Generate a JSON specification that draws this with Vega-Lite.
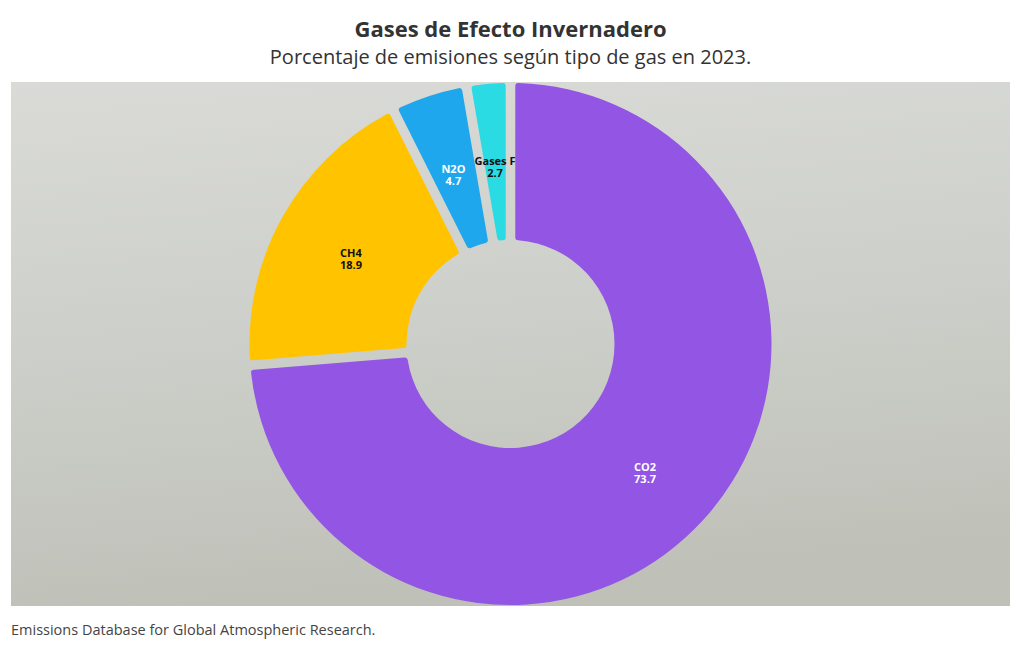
{
  "$schema": "https://vega.github.io/schema/vega-lite/v6.json",
  "width": 999,
  "height": 524,
  "autosize": {"type": "none"},
  "padding": {"left": 11, "top": 82, "right": 10, "bottom": 44},
  "background": "#ffffff",
  "view": {
    "stroke": null,
    "fill": {
      "gradient": "linear",
      "x1": 0, "y1": 0, "x2": 0.15, "y2": 1,
      "stops": [
        {"offset": 0, "color": "#dadbd7"},
        {"offset": 0.5, "color": "#cdcfca"},
        {"offset": 1, "color": "#bfc1b9"}
      ]
    }
  },
  "title": {
    "text": "Gases de Efecto Invernadero",
    "subtitle": "Porcentaje de emisiones según tipo de gas en 2023.",
    "anchor": "middle",
    "font": "Open Sans",
    "fontSize": 22,
    "fontWeight": "bold",
    "color": "#333333",
    "subtitleFont": "Open Sans",
    "subtitleFontSize": 20,
    "subtitleColor": "#333333",
    "subtitlePadding": 6,
    "offset": 13
  },
  "data": {
    "values": [
      {"gas": "CO2", "valor": 73.7, "orden": 1, "etiqueta": "CO2\n73.7"},
      {"gas": "CH4", "valor": 18.9, "orden": 2, "etiqueta": "CH4\n18.9"},
      {"gas": "N2O", "valor": 4.7, "orden": 3, "etiqueta": "N2O\n4.7"},
      {"gas": "Gases F", "valor": 2.7, "orden": 4, "etiqueta": "Gases F\n2.7"}
    ]
  },
  "layer": [
    {
      "mark": {"type": "arc", "innerRadius": 104, "outerRadius": 261, "padAngle": 0.034, "cornerRadius": 3},
      "encoding": {
        "theta": {"field": "valor", "type": "quantitative", "stack": true},
        "order": {"field": "orden", "type": "quantitative"},
        "color": {
          "field": "gas",
          "type": "nominal",
          "scale": {"domain": ["CO2", "CH4", "N2O", "Gases F"], "range": ["#9355e3", "#ffc300", "#1ea7ec", "#2bdbe4"]},
          "legend": null
        }
      }
    },
    {
      "mark": {"type": "text", "radius": 183, "font": "Open Sans", "fontSize": 11, "fontWeight": "bold", "lineBreak": "\n", "lineHeight": 12, "align": "center", "baseline": "middle"},
      "encoding": {
        "theta": {"field": "valor", "type": "quantitative", "stack": true},
        "order": {"field": "orden", "type": "quantitative"},
        "text": {"field": "etiqueta"},
        "color": {
          "condition": {"test": "datum.gas === 'CO2' || datum.gas === 'N2O'", "value": "#ffffff"},
          "value": "#111111"
        }
      }
    },
    {
      "data": {"values": [{"fuente": "Emissions Database for Global Atmospheric Research."}]},
      "mark": {"type": "text", "x": 0, "y": {"expr": "height + 25"}, "align": "left", "baseline": "middle", "font": "Open Sans", "fontSize": 14.5, "color": "#444444"},
      "encoding": {"text": {"field": "fuente"}}
    }
  ]
}
